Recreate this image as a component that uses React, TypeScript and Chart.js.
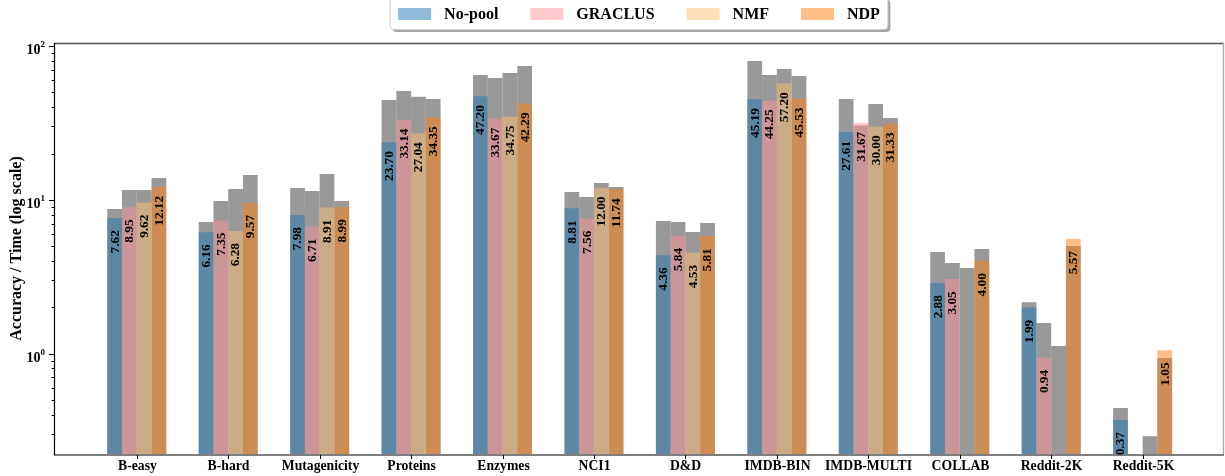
import React, { useEffect, useRef } from 'react';
import { Chart, registerables } from 'chart.js';

Chart.register(...registerables);

// ---------- data ----------
const categories = ['B-easy', 'B-hard', 'Mutagenicity', 'Proteins', 'Enzymes', 'NCI1', 'D&D', 'IMDB-BIN', 'IMDB-MULTI', 'COLLAB', 'Reddit-2K', 'Reddit-5K'];
const seriesLabels = ['No-pool', 'GRACLUS', 'NMF', 'NDP'];

const noPool = [7.62, 6.16, 7.98, 23.70, 47.20, 8.81, 4.36, 45.19, 27.61, 2.88, 1.99, 0.37];
const graclus = [8.95, 7.35, 6.71, 33.14, 33.67, 7.56, 5.84, 44.25, 31.67, 3.05, 0.94, null];
const nmf = [9.62, 6.28, 8.91, 27.04, 34.75, 12.00, 4.53, 57.20, 30.00, null, null, null];
const ndp = [12.12, 9.57, 8.99, 34.35, 42.29, 11.74, 5.81, 45.53, 31.33, 4.00, 5.57, 1.05];

const noPoolGray = [8.71, 7.17, 11.94, 44.6, 64.9, 11.24, 7.28, 80.0, 45.3, 4.58, 2.16, 0.442];
const graclusGray = [11.58, 9.82, 11.41, 51.0, 62.0, 10.43, 7.17, 64.9, 30.5, 3.88, 1.58, null];
const nmfGray = [11.58, 11.75, 14.72, 46.9, 66.8, 12.86, 6.17, 71.0, 42.0, 3.60, 1.12, 0.290];
const ndpGray = [13.87, 14.50, 9.82, 45.3, 74.2, 12.12, 7.07, 63.9, 34.1, 4.79, 5.01, 0.935];

const yMin = 0.222;
const yMax = 104.8;
const yTitle = 'Accuracy / Time (log scale)';

// ---------- styles ----------
const FONT = '"Liberation Serif", "DejaVu Serif", "Times New Roman", serif';
const seriesColors = ['rgba(31,119,180,0.5)', 'rgba(255,147,151,0.5)', 'rgba(255,191,113,0.5)', 'rgba(255,127,14,0.5)'];
const grayColor = 'rgba(128,128,128,0.8)';

const colorSeries = [noPool, graclus, nmf, ndp];
const graySeries = [noPoolGray, graclusGray, nmfGray, ndpGray];

const toPoints = (vals: (number | null)[]) => vals.map((v, i) => ({ x: i, y: v }));

const decorPlugin = {
  id: 'decor',
  afterDatasetsDraw(chart: any) {
    const ctx = chart.ctx;
    const ys = chart.scales.y;
    ctx.save();
    ctx.font = `bold 13.3px ${FONT}`;
    ctx.fillStyle = '#000';
    ctx.textAlign = 'center';
    ctx.textBaseline = 'middle';
    colorSeries.forEach((vals, si) => {
      const meta = chart.getDatasetMeta(si);
      vals.forEach((v, j) => {
        if (v == null) return;
        const el = meta.data[j];
        const py = ys.getPixelForValue(v * 0.7);
        ctx.save();
        ctx.translate(el.x + 0.5, py);
        ctx.rotate(-Math.PI / 2);
        ctx.fillText(v.toFixed(2), 0, 0);
        ctx.restore();
      });
    });
    ctx.restore();
  },
  afterDraw(chart: any) {
    const ctx = chart.ctx;
    const { left, right, top, bottom } = chart.chartArea;
    const xs = chart.scales.x;
    const ys = chart.scales.y;
    ctx.save();

    // spines
    ctx.lineWidth = 1.3;
    ctx.strokeStyle = '#555';
    ctx.beginPath();
    ctx.moveTo(left, top + 0.5);
    ctx.lineTo(right, top + 0.5);
    ctx.stroke();
    ctx.strokeStyle = '#aaa';
    ctx.beginPath();
    ctx.moveTo(right - 0.5, top);
    ctx.lineTo(right - 0.5, bottom);
    ctx.stroke();
    ctx.lineWidth = 1.2;
    ctx.strokeStyle = '#000';
    ctx.beginPath();
    ctx.moveTo(left + 0.5, top);
    ctx.lineTo(left + 0.5, bottom + 1);
    ctx.lineTo(right, bottom + 1);
    ctx.stroke();

    // y ticks
    ctx.lineWidth = 1;
    for (let k = -1; k <= 2; k++) {
      for (let m = 1; m <= 9; m++) {
        const v = m * Math.pow(10, k);
        if (v < yMin || v > yMax) continue;
        const py = Math.round(ys.getPixelForValue(v)) + 0.5;
        const len = m === 1 ? 5 : 2.5;
        ctx.beginPath();
        ctx.moveTo(left, py);
        ctx.lineTo(left - len, py);
        ctx.stroke();
        if (m === 1) {
          ctx.fillStyle = '#000';
          ctx.textAlign = 'right';
          ctx.textBaseline = 'alphabetic';
          ctx.font = `bold 9px ${FONT}`;
          const ew = ctx.measureText(String(k)).width;
          ctx.fillText(String(k), left - 9, py + 0.5);
          ctx.font = `bold 14px ${FONT}`;
          ctx.fillText('10', left - 9 - ew, py + 7);
        }
      }
    }

    // x ticks + labels
    ctx.fillStyle = '#000';
    ctx.textAlign = 'center';
    ctx.textBaseline = 'middle';
    ctx.font = `bold 13.7px ${FONT}`;
    categories.forEach((c, i) => {
      const px = Math.round(xs.getPixelForValue(i)) + 0.5;
      ctx.beginPath();
      ctx.moveTo(px, bottom + 1);
      ctx.lineTo(px, bottom + 5);
      ctx.stroke();
      ctx.fillText(c, px, bottom + 12);
    });

    // y title
    ctx.save();
    ctx.font = `bold 16px ${FONT}`;
    ctx.translate(17, (top + bottom) / 2);
    ctx.rotate(-Math.PI / 2);
    ctx.textAlign = 'center';
    ctx.textBaseline = 'middle';
    ctx.fillText(yTitle, 0, 0);
    ctx.restore();

    // legend
    ctx.font = `bold 16px ${FONT}`;
    const widths = seriesLabels.map((l) => ctx.measureText(l).width);
    const handleW = 33, handleH = 12, handleGap = 13, itemGap = 32, pad = 8;
    const total = widths.reduce((a, w) => a + handleW + handleGap + w, 0) + itemGap * (seriesLabels.length - 1);
    const cx = (left + right) / 2;
    let x = cx - total / 2;
    const fl = x - pad, fr = x + total + pad, ft = -3, fb = 29.5, r = 4;
    const rr = (x0: number, y0: number, x1: number, y1: number) => {
      ctx.beginPath();
      ctx.moveTo(x0 + r, y0);
      ctx.lineTo(x1 - r, y0);
      ctx.quadraticCurveTo(x1, y0, x1, y0 + r);
      ctx.lineTo(x1, y1 - r);
      ctx.quadraticCurveTo(x1, y1, x1 - r, y1);
      ctx.lineTo(x0 + r, y1);
      ctx.quadraticCurveTo(x0, y1, x0, y1 - r);
      ctx.lineTo(x0, y0 + r);
      ctx.quadraticCurveTo(x0, y0, x0 + r, y0);
      ctx.closePath();
    };
    ctx.fillStyle = 'rgba(0,0,0,0.35)';
    rr(fl + 2.5, ft + 2.5, fr + 2.5, fb + 2.5);
    ctx.fill();
    ctx.fillStyle = '#fff';
    ctx.strokeStyle = '#cccccc';
    ctx.lineWidth = 1;
    rr(fl, ft, fr, fb);
    ctx.fill();
    ctx.stroke();
    seriesLabels.forEach((l, i) => {
      ctx.fillStyle = seriesColors[i];
      ctx.fillRect(x, 8, handleW, handleH);
      ctx.fillStyle = '#000';
      ctx.textAlign = 'left';
      ctx.textBaseline = 'middle';
      ctx.fillText(l, x + handleW + handleGap, 14.5);
      x += handleW + handleGap + widths[i] + itemGap;
    });

    ctx.restore();
  },
};

export default function App() {
  const canvasRef = useRef<HTMLCanvasElement | null>(null);

  useEffect(() => {
    if (!canvasRef.current) return;
    const datasets: any[] = [];
    colorSeries.forEach((vals, i) => {
      datasets.push({
        label: seriesLabels[i],
        data: toPoints(vals),
        backgroundColor: seriesColors[i],
        borderWidth: 0,
        stack: 's' + i,
        categoryPercentage: 0.645,
        barPercentage: 1.0,
      });
    });
    graySeries.forEach((vals, i) => {
      datasets.push({
        label: seriesLabels[i] + ' (gray)',
        data: toPoints(vals),
        backgroundColor: grayColor,
        borderWidth: 0,
        stack: 's' + i,
        categoryPercentage: 0.645,
        barPercentage: 1.0,
      });
    });

    const chart = new Chart(canvasRef.current, {
      type: 'bar',
      data: { datasets },
      options: {
        animation: false,
        responsive: false,
        maintainAspectRatio: false,
        devicePixelRatio: 1,
        layout: { padding: { left: 54, right: 1, top: 43, bottom: 22 } },
        plugins: { legend: { display: false }, tooltip: { enabled: false } },
        scales: {
          x: {
            type: 'linear',
            display: false,
            offset: false,
            grid: { offset: false },
            min: -0.905,
            max: 11.89,
            stacked: true,
            afterBuildTicks: (scale: any) => {
              scale.ticks = categories.map((_, i) => ({ value: i }));
            },
          },
          y: {
            type: 'logarithmic',
            display: false,
            min: yMin,
            max: yMax,
            stacked: false,
          },
        },
      } as any,
      plugins: [decorPlugin],
    });
    return () => chart.destroy();
  }, []);

  return (
    <div style={{ position: 'fixed', left: 0, top: 0, width: 1225, height: 476, background: '#fff' }}>
      <canvas ref={canvasRef} width={1225} height={476} style={{ display: 'block', width: 1225, height: 476 }} />
    </div>
  );
}
